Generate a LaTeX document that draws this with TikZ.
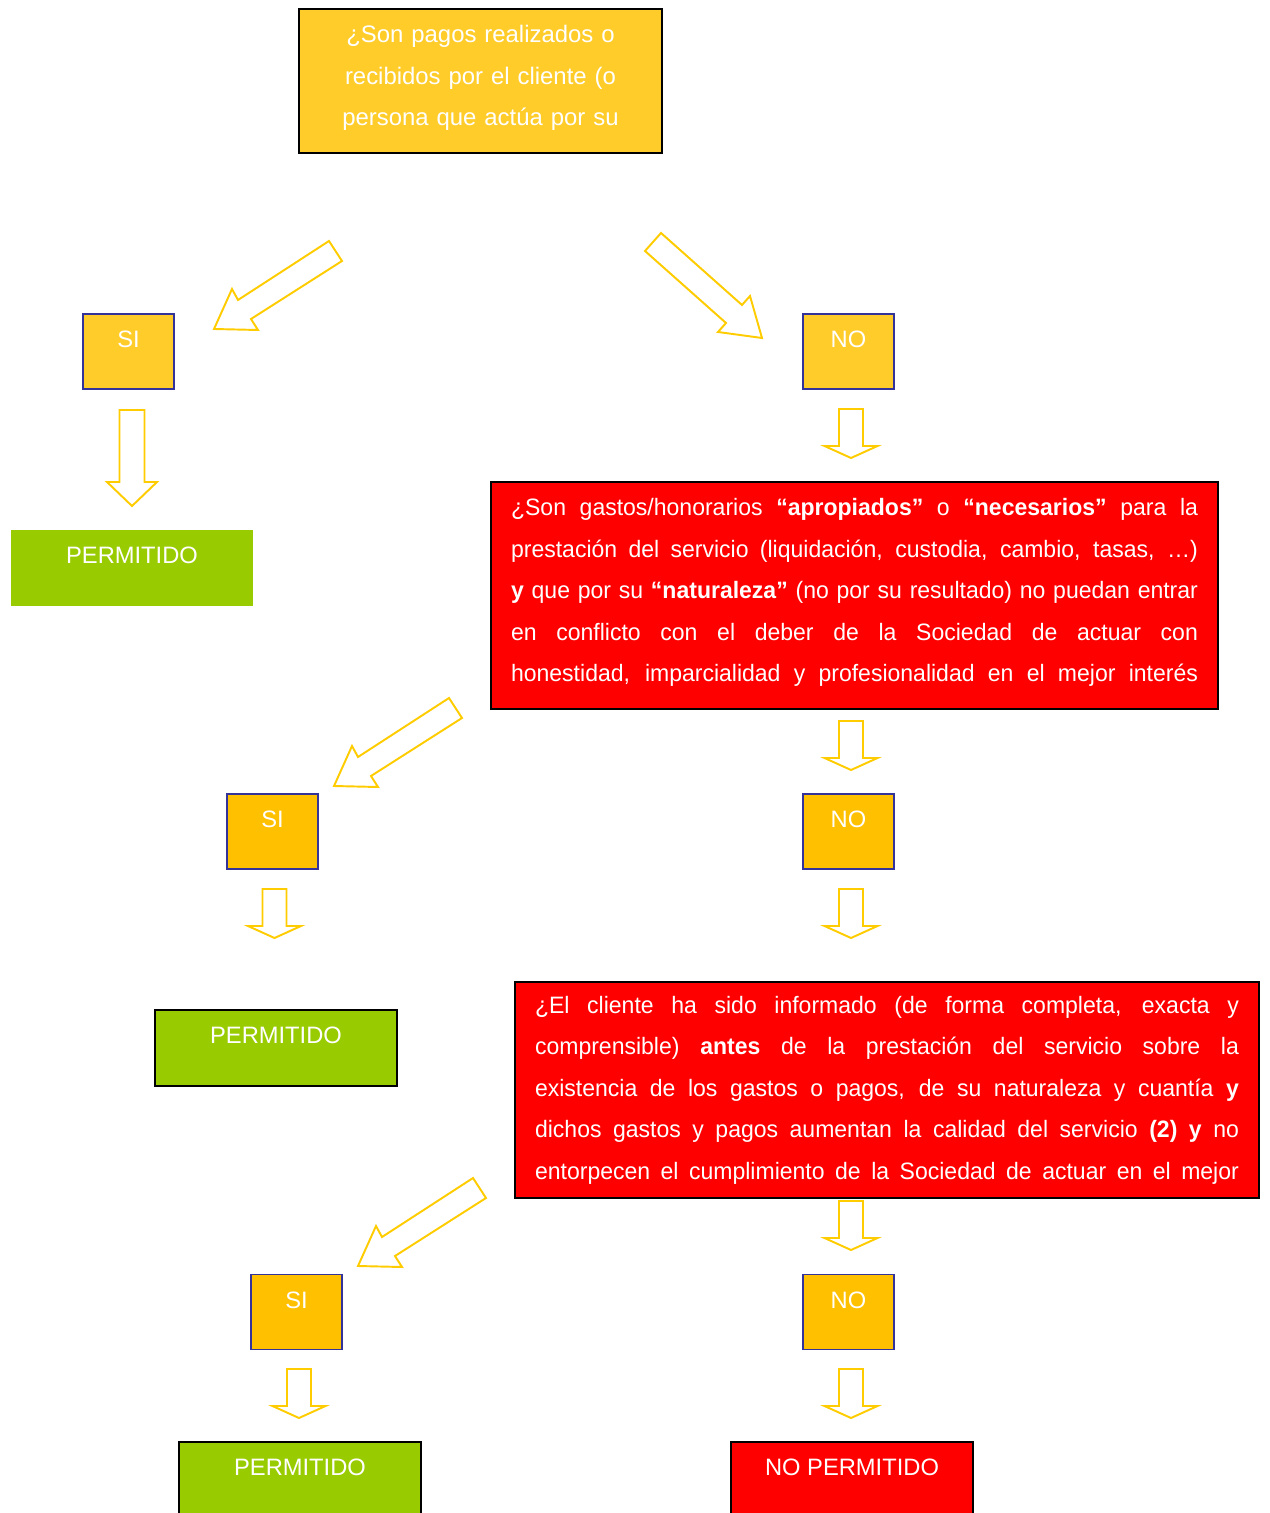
\documentclass[tikz,border=0pt]{standalone}
\usepackage{fontspec}
\setmainfont{Liberation Sans}
\newfontfamily\narrowsans[FakeStretch=0.97]{Liberation Sans}
\usepackage{xcolor}
\usepackage{tikz}
\usetikzlibrary{positioning,calc}
\definecolor{QYel}{RGB}{255,204,41}
\definecolor{Ambr}{RGB}{255,192,0}
\definecolor{OkGreen}{RGB}{153,204,0}
\definecolor{NoRed}{RGB}{255,0,0}
\definecolor{NavyB}{RGB}{51,51,153}
\definecolor{ArrYel}{RGB}{255,204,0}
\tikzset{
  qbox/.style={draw=black,line width=1.1pt,fill=QYel,text=white,inner sep=0pt,
               minimum width=7.26cm,minimum height=2.88cm,text width=6.6cm,align=center,
               font=\fontsize{13.6}{23.6}\selectfont},
  redq/.style={draw=black,line width=1.1pt,fill=NoRed,text=white,inner ysep=0pt,
               inner xsep=0.4cm,align=justify,
               font=\narrowsans\fontsize{13.5}{23.6}\selectfont},
  ans/.style={draw=NavyB,line width=1.1pt,text=white,inner sep=0pt,
              minimum width=1.82cm,text height=0.67cm,text depth=0.83cm,
              font=\fontsize{13.5}{16}\selectfont},
  okbox/.style={draw=black,line width=1.1pt,fill=OkGreen,text=white,inner sep=0pt,
                minimum width=4.84cm,text height=0.67cm,text depth=0.85cm,
                font=\fontsize{13.5}{16}\selectfont},
  blk/.style={draw=ArrYel,line width=1.1pt,fill=white,line join=miter},
  bigdown/.pic={\draw[blk] (-12.5,-96) -- (-12.5,-24) -- (-25,-24) -- (0,0)
                 -- (25,-24) -- (12.5,-24) -- (12.5,-96) -- cycle;},
  dnarrow/.pic={\draw[blk] (-12,-49) -- (-12,-12) -- (-26.5,-12) -- (0,0)
                 -- (26.5,-12) -- (12,-12) -- (12,-49) -- cycle;},
  swarrow/.pic={\draw[blk] (0,0) -- (18,-40) -- (24,-29) -- (115,-88)
                 -- (128,-68) -- (37,-10) -- (44,1) -- cycle;},
  searrow/.pic={\draw[blk] (0,0) -- (-12,-42) -- (-20,-33) -- (-101,-105)
                 -- (-117,-87) -- (-36,-15) -- (-44,-6) -- cycle;},
}

\begin{document}
\begin{tikzpicture}[x=0.02cm,y=-0.02cm]
  \useasboundingbox (0,0) rectangle (1269,1513);
  % first question
  \node[qbox] (q0) at (480.5,81) {¿Son pagos realizados o\\
    recibidos por el cliente (o\\ persona que actúa por su\par\vspace{0.12cm}};
  \pic at (214,329) {swarrow};
  \pic at (762,338) {searrow};
  \node[ans,fill=QYel] (si1) at (128.5,351.5) {SI};
  \node[ans,fill=QYel] (no1) at (848.5,351.5) {NO};
  \pic at (132,506) {bigdown};
  \pic at (851,458) {dnarrow};
  \node[okbox,draw=none] (ok1) at (132,568) {PERMITIDO};
  % second question
  \node[redq,text width=13.74cm,minimum height=4.54cm] (q1) at (854.5,595.5)
    {{\parfillskip=0pt ¿Son gastos/honorarios \textbf{“apropiados”} o \textbf{“necesarios”} para la\linebreak
     prestación del servicio (liquidación, custodia, cambio, tasas, …)\linebreak
     \textbf{y} que por su \textbf{“naturaleza”} (no por su resultado) no puedan entrar\linebreak
     en conflicto con el deber de la Sociedad de actuar con\linebreak
     honestidad, imparcialidad y profesionalidad en el mejor interés\par}\vspace{0.12cm}};
  \pic at (334,786) {swarrow};
  \pic at (851,770) {dnarrow};
  \node[ans,fill=Ambr] (si2) at (272.5,831.5) {SI};
  \node[ans,fill=Ambr] (no2) at (848.5,831.5) {NO};
  \pic at (274.5,938) {dnarrow};
  \pic at (851,938) {dnarrow};
  \node[okbox] (ok2) at (276,1048) {PERMITIDO};
  % third question
  \node[redq,text width=14.08cm,minimum height=4.32cm] (q2) at (887,1090)
    {{\parfillskip=0pt ¿El cliente ha sido informado (de forma completa, exacta y\linebreak
     comprensible) \textbf{antes} de la prestación del servicio sobre la\linebreak
     existencia de los gastos o pagos, de su naturaleza y cuantía \textbf{y}\linebreak
     dichos gastos y pagos aumentan la calidad del servicio \textbf{(2) y} no\linebreak
     entorpecen el cumplimiento de la Sociedad de actuar en el mejor\par}};
  \pic at (358,1266) {swarrow};
  \pic at (851,1250) {dnarrow};
  \node[ans,fill=Ambr] (si3) at (296.5,1312) {SI};
  \node[ans,fill=Ambr] (no3) at (848.5,1312) {NO};
  \pic at (299,1418) {dnarrow};
  \pic at (851,1418) {dnarrow};
  \node[okbox] (ok3) at (300,1480) {PERMITIDO};
  \node[okbox,fill=NoRed] (nok) at (852,1480) {NO PERMITIDO};
\end{tikzpicture}
\end{document}
